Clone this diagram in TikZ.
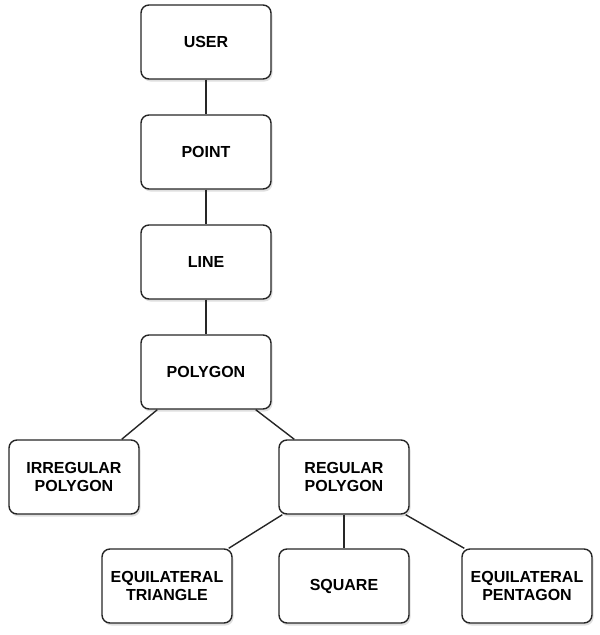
\documentclass[tikz,border=0pt]{standalone}
\usepackage{fontspec}
\setmainfont{Liberation Sans}
\usetikzlibrary{shadows}
\begin{document}
\begin{tikzpicture}[x=1pt,y=-1pt,
  box/.style={draw=black!85, line width=1.4pt, rounded corners=8pt, fill=white,
    minimum width=130pt, minimum height=74pt, inner sep=0pt, align=center,
    font=\bfseries\fontsize{16}{18}\selectfont,
    drop shadow={opacity=0.25, shadow xshift=1.5pt, shadow yshift=-2.5pt}},
  link/.style={draw=black!85, line width=1.4pt}]
\useasboundingbox (0,0) rectangle (600,635);
\node[box] (user) at (206,42) {USER};
\node[box] (point) at (206,152) {POINT};
\node[box] (line) at (206,262) {LINE};
\node[box] (poly) at (206,372) {POLYGON};
\node[box] (irr) at (74,477) {IRREGULAR\\POLYGON};
\node[box] (reg) at (344,477) {REGULAR\\POLYGON};
\node[box] (tri) at (167,586) {EQUILATERAL\\TRIANGLE};
\node[box] (sq) at (344,586) {SQUARE};
\node[box] (pent) at (527,586) {EQUILATERAL\\PENTAGON};
\draw[link] (user) -- (point);
\draw[link] (point) -- (line);
\draw[link] (line) -- (poly);
\draw[link] ([xshift=17pt]poly.south west) -- ([xshift=-18pt]irr.north east);
\draw[link] ([xshift=-16pt]poly.south east) -- ([xshift=16pt]reg.north west);
\draw[link] ([xshift=4pt]reg.south west) -- ([xshift=-4pt]tri.north east);
\draw[link] (reg) -- (sq);
\draw[link] ([xshift=-4pt]reg.south east) -- ([xshift=3pt]pent.north west);
\end{tikzpicture}
\end{document}
